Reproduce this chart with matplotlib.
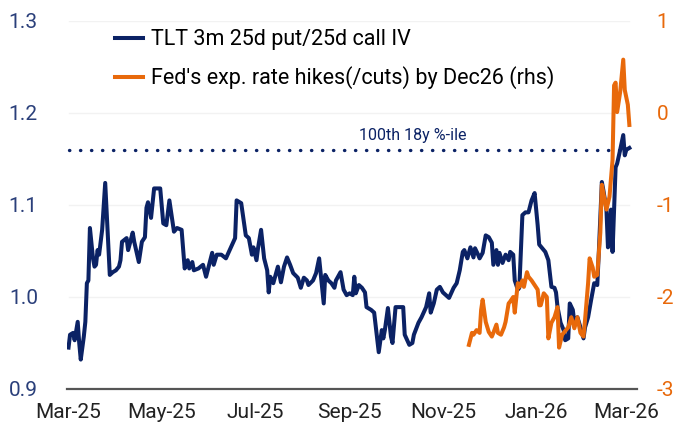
import numpy as np
import matplotlib
matplotlib.use("Agg")
import matplotlib.pyplot as plt
import matplotlib.dates as mdates

# days since 1 Mar 2025
tlt_days = [0, 1, 3, 4, 6, 7, 8, 10, 11, 12, 13, 14, 16, 17, 18, 19, 20, 22, 24, 27,
            29, 31, 33, 34, 35, 38, 39, 42, 43, 46, 48, 50, 51, 52, 54, 56, 60, 62, 64, 66,
            69, 71, 74, 76, 78, 79, 81, 82, 85, 88, 90, 92, 94, 95, 97, 100, 103, 106, 109, 110,
            113, 116, 118, 120, 121, 123, 124, 126, 128, 130, 131, 132, 134, 135, 137, 139, 141, 143, 145, 147,
            150, 152, 154, 156, 157, 160, 162, 164, 167, 168, 170, 172, 174, 175, 178, 180, 182, 184, 186, 187,
            188, 190, 192, 194, 195, 198, 200, 203, 205, 206, 207, 209, 211, 212, 214, 216, 219, 220, 223, 225,
            226, 229, 231, 234, 236, 237, 239, 241, 243, 245, 247, 249, 252, 254, 256, 258, 259, 261, 263, 265,
            266, 268, 269, 271, 273, 275, 277, 278, 280, 281, 282, 284, 286, 288, 289, 291, 292, 294, 295, 297,
            299, 301, 303, 305, 307, 308, 310, 312, 314, 316, 318, 319, 320, 322, 324, 325, 327, 328, 330, 331,
            333, 335, 337, 338, 340, 342, 344, 346, 347, 349, 350, 352, 353, 354, 355, 356, 357, 358, 359, 361,
            363, 364, 365, 367]
tlt_skew = [0.945, 0.959, 0.961, 0.953, 0.973, 0.950, 0.932, 0.957, 0.973, 1.015, 1.018, 1.075, 1.042, 1.033, 1.035, 1.051, 1.046, 1.073, 1.124, 1.024,
            1.027, 1.029, 1.033, 1.040, 1.060, 1.064, 1.051, 1.070, 1.060, 1.038, 1.060, 1.065, 1.097, 1.103, 1.086, 1.118, 1.118, 1.080, 1.078, 1.105,
            1.071, 1.075, 1.073, 1.031, 1.040, 1.031, 1.038, 1.029, 1.031, 1.035, 1.022, 1.035, 1.048, 1.035, 1.046, 1.046, 1.042, 1.053, 1.064, 1.105,
            1.102, 1.067, 1.064, 1.046, 1.054, 1.040, 1.053, 1.073, 1.042, 1.029, 1.005, 1.022, 1.015, 1.021, 1.033, 1.016, 1.033, 1.043, 1.035, 1.026,
            1.021, 1.010, 1.021, 1.018, 1.013, 1.018, 1.026, 1.042, 0.993, 1.024, 1.018, 1.015, 1.010, 1.018, 1.027, 1.008, 1.002, 1.004, 1.002, 1.022,
            1.004, 1.013, 1.010, 1.005, 0.989, 0.986, 0.983, 0.940, 0.964, 0.955, 0.964, 0.988, 0.957, 0.950, 0.989, 0.989, 0.989, 0.959, 0.948, 0.950,
            0.959, 0.972, 0.978, 0.989, 1.004, 0.983, 0.993, 1.008, 1.011, 1.005, 1.002, 0.999, 1.010, 1.015, 1.029, 1.049, 1.051, 1.042, 1.054, 1.043,
            1.053, 1.046, 1.042, 1.048, 1.067, 1.065, 1.059, 1.035, 1.051, 1.035, 1.048, 1.037, 1.046, 1.040, 1.049, 1.046, 1.018, 1.008, 1.010, 1.089,
            1.092, 1.092, 1.105, 1.113, 1.078, 1.057, 1.053, 1.049, 1.040, 1.011, 1.010, 1.005, 0.989, 0.972, 0.964, 0.953, 0.955, 0.993, 0.986, 0.972,
            0.978, 0.967, 0.955, 0.967, 0.978, 0.997, 1.015, 1.013, 1.048, 1.125, 1.116, 1.095, 1.054, 1.076, 1.095, 1.049, 1.095, 1.141, 1.145, 1.160,
            1.176, 1.154, 1.160, 1.162]

fed_days = [262, 264, 265, 267, 269, 270, 271, 273, 275, 277, 278, 280, 281, 283, 285, 286, 288, 289, 291, 292,
            294, 295, 297, 298, 300, 301, 303, 305, 307, 308, 309, 311, 313, 314, 316, 318, 320, 321, 323, 324,
            327, 329, 331, 333, 335, 337, 338, 340, 341, 343, 344, 346, 348, 349, 350, 352, 354, 356, 357, 358,
            359, 361, 363, 364, 366, 367]
fed_hikes = [-2.52, -2.39, -2.41, -2.36, -2.39, -2.14, -2.03, -2.27, -2.38, -2.43, -2.39, -2.30, -2.39, -2.41, -2.33, -2.27, -2.07, -2.05, -2.00, -2.17,
             -1.85, -1.89, -1.82, -1.89, -1.73, -1.78, -1.82, -1.87, -1.92, -2.09, -2.09, -1.96, -2.00, -2.45, -2.28, -2.22, -2.11, -2.55, -2.41, -2.39,
             -2.33, -2.22, -2.34, -2.22, -2.39, -2.43, -2.25, -1.85, -1.58, -1.68, -1.78, -1.76, -1.30, -0.78, -0.87, -1.05, -0.91, -0.51, 0.30, 0.33,
             0.01, 0.23, 0.58, 0.25, 0.09, -0.13]

pctile_level = 1.16

navy = "#0b2265"
orange = "#e8690b"
start = np.datetime64("2025-03-01")
tlt_dates = start + np.array(tlt_days).astype("timedelta64[D]")
fed_dates = start + np.array(fed_days).astype("timedelta64[D]")

plt.rcParams["font.family"] = ["Roboto", "DejaVu Sans"]
plt.rcParams["axes.unicode_minus"] = False

fig = plt.figure(figsize=(6.85, 4.33), dpi=100)
ax = fig.add_axes([67 / 685, 1 - 389 / 433, 570 / 685, 368 / 433])
ax2 = ax.twinx()

ax.set_ylim(0.9, 1.3)
ax.set_yticks([0.9, 1.0, 1.1, 1.2, 1.3])
ax.set_yticklabels(["0.9", "1.0", "1.1", "1.2", "1.3"])
ax2.set_ylim(-3, 1)
ax2.set_yticks([-3, -2, -1, 0, 1])
ax2.set_yticklabels(["-3", "-2", "-1", "0", "1"])

end = start + np.timedelta64(367, "D")
for y in [1.0, 1.1, 1.2, 1.3]:
    ax.plot([start, end], [y, y], color="#f2f2f2", lw=1, zorder=0)

l1, = ax.plot(tlt_dates, tlt_skew, color=navy, lw=2.9, solid_joinstyle="round",
              label="TLT 3m 25d put/25d call IV")
ax.plot([start, end], [pctile_level, pctile_level], color=navy,
        lw=2.4, linestyle=(0, (0.1, 3.2)), dash_capstyle="round")
ax.text(start + np.timedelta64(225, "D"), pctile_level + 0.007, "100th 18y %-ile",
        color=navy, fontsize=11.5, ha="center", va="bottom")

l2, = ax2.plot(fed_dates, fed_hikes, color=orange, lw=2.9, solid_joinstyle="round",
               label="Fed's exp. rate hikes(/cuts) by Dec26 (rhs)")

ax.set_xlim(start - np.timedelta64(1, "D"), start + np.timedelta64(372, "D"))
ax.xaxis.set_major_locator(mdates.MonthLocator(bymonth=[1, 3, 5, 7, 9, 11]))
ax.xaxis.set_major_formatter(mdates.DateFormatter("%b-%y"))

for a in (ax, ax2):
    for s in a.spines.values():
        s.set_visible(False)
ax.spines["bottom"].set_visible(True)
ax.spines["bottom"].set_color("#555555")
ax.spines["bottom"].set_linewidth(1.6)

ax.tick_params(axis="x", length=0, pad=10, labelsize=15, labelcolor="#222222")
ax.tick_params(axis="y", length=0, pad=21, labelsize=15, labelcolor="#2a3f7a")
ax2.tick_params(axis="y", length=0, pad=14, labelsize=15, labelcolor=orange)

ax2.legend(handles=[l1, l2], loc="upper left", bbox_to_anchor=(0.084, 0.978),
           frameon=False, fontsize=15.5, handlelength=1.3, handletextpad=0.4,
           labelspacing=0.75, borderpad=0, borderaxespad=0)

fig.savefig("out.png", dpi=100)
